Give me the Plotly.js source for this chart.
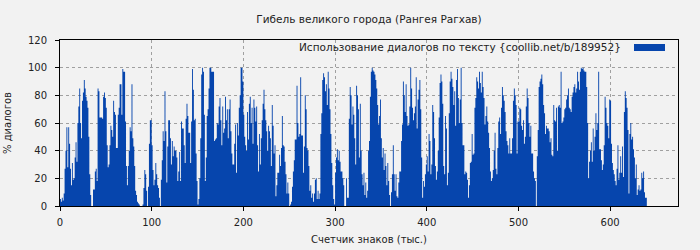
<!DOCTYPE html>
<html>
<head>
<meta charset="utf-8">
<script src="https://cdn.plot.ly/plotly-3.0.1.min.js"></script>
<style>html,body{margin:0;padding:0;background:#f2f2f2;}</style>
</head>
<body>
<div id="chart" style="width:700px;height:250px;"></div>
<script>
// Dialogue share (%) per 1k characters, in order
const seg1 = [5,3,6,4,9,27,40,57,28,57,45,27,15,31,19,20,35,46,32,60,72,85,60,49,76,82,91,85,79,76,71,50,23,8,0,0,12,12,25,27,18,85,83,64,64,64,63,79,82,78,71,44,28,30,44,58,55,50,76,68,66,42,42,66,71,88];
const seg2 = [88,66,99,97,97,61,29,15,29,40,57,54,88,49,43,29,11,8,3,2,1,0,0,0,1,13,26,23,11,0,14,45,62,62,44,26,15,19,31,23,15,13,6,0,19,33,54,47,83,54,17,43,62,62,49,30,47,36,43,40,40,35,18,25,39,18,61,56,56,44];
const seg3 = [31,63,74,65,53,53,31,61,99,84,62,63,38,18,1,5,20,49,95,100,97,66,18,35,65,70,85,100,100,97,97,97,47,48,49,60,59,72,78,62,44,72,53,56,79,62,70,49,70,77,54,38,30,30,45,59,24,60,51,71,80,100,100,90,66,50,44];
const seg4 = [40,68,48,74,79,60,71,45,77,71,61,72,44,25,52,30,49,62,74,84,70,62,54,40,58,54,49,29,73,58,38,44,7,15,24,24,37,29,42,65,44,43,32,23,9,17,9,0,1,3,14,25,33,48,48,87,60,50,52,93,51,51,24,43,80,70,42,40];
const seg5 = [29,11,15,6,9,3,9,19,20,5,11,5,9,52,67,91,96,93,83,88,73,97,85,70,52,31,15,5,1,24,35,41,33,40,32,25,25,20,15,0,0,20,6,6,63,86,80,59,72,66,49,30,87,80,70,35,74,40,23,15,24,8,17,6,11,40];
const seg6 = [47,79,97,100,98,97,95,91,85,73,59,65,77,49,35,42,26,38,29,15,31,18,8,0,10,23,44,23,11,23,7,6,17,25,25,47,59,90,80,68,88,65,58,59,72,100,85,71,62,67,72,93,56,77,84,91,70,35,6,18,14,23,30,36,25,52,47,23,30];
const seg7 = [73,68,49,29,19,25,40,64,89,95,90,74,29,23,65,56,15,24,67,90,97,92,86,73,83,58,91,99,78,60,77,100,60,44,44,23,25,24,19,6,15,31,32,52,37,38,71,78,93,90,85,97,89,82,97,86,78,59,65,72,61,53,42,25,18,20,26,40];
const seg8 = [53,27,23,42,61,64,52,71,86,80,76,68,54,47,44,38,49,38,38,49,76,85,80,73,38,61,61,71,70,58,55,62,45,50,72,85,78,60,50,58,38,38,25,20,18,0,36,55,86,90,92,95,88,73,67,52,58,56,56,54,46,49,37,36,73,62,61,71];
const seg9 = [40,72,73,71,97,60,61,64,70,71,77,80,85,71,70,68,79,82,86,88,82,85,97,90,84,97,100,99,100,98,97,97,86,60,20,32,40,46,32,56,40,50,67,55,60,97,41,41,33,26,30,44,79,71,60,58,49,77,76,45,31,26,23,18,15,27,44];
const seg10 = [19,24,36,24,43,21,68,83,78,71,55,9,52,60,48,50,41,35,20,30,8,12,15,11,12,24,20,25,10,6,6];

const titleText = "Гибель великого города (Рангея Рагхав)";
const seriesName = "Использование диалогов по тексту {coollib.net/b/189952}";
const xTitle = "Счетчик знаков (тыс.)";
const yTitle = "% диалогов";
const xTicks = [0, 100, 200, 300, 400, 500, 600];
const yTicks = [0, 20, 40, 60, 80, 100, 120];

const values = [].concat(seg1, seg2, seg3, seg4, seg5, seg6, seg7, seg8, seg9, seg10);
// one-unit-wide bars drawn as a solid step area: each bin spans [i, i+1)
const xs = values.map((v, i) => i).concat([values.length]);
const ys = values.concat([values[values.length - 1]]);

const barColor = "#0645AD";
const font = "DejaVu Sans, sans-serif";

const trace = {
  type: "scatter",
  mode: "lines",
  x: xs,
  y: ys,
  line: {shape: "hv", width: 0, color: barColor},
  fill: "tozeroy",
  fillcolor: barColor,
  name: seriesName,
  showlegend: false,
  hoverinfo: "x+y"
};

const layout = {
  width: 700,
  height: 250,
  paper_bgcolor: "#f2f2f2",
  plot_bgcolor: "#f2f2f2",
  margin: {l: 60, r: 22, t: 40, b: 44},
  font: {family: font, size: 10, color: "#222"},
  title: {
    text: titleText,
    font: {family: font, size: 10.5, color: "#222"},
    x: 0.5, xref: "paper",
    y: 1 - 19/250, yref: "container", yanchor: "middle"
  },
  xaxis: {
    range: [0, 674],
    tickvals: xTicks,
    ticktext: xTicks.map(String),
    ticks: "outside", ticklen: 4, tickcolor: "#000",
    ticklabelstandoff: 3,
    showline: true, linecolor: "#000", linewidth: 1, mirror: true,
    showgrid: true, gridcolor: "#a0a0a0", griddash: "3px,3px", gridwidth: 1,
    zeroline: false,
    tickfont: {family: font, size: 10, color: "#222"},
    title: {text: xTitle, font: {family: font, size: 10, color: "#222"}, standoff: 8}
  },
  yaxis: {
    range: [0, 120],
    tickvals: yTicks,
    ticktext: yTicks.map(String),
    ticks: "outside", ticklen: 4, tickcolor: "#000",
    ticklabelstandoff: 6,
    showline: true, linecolor: "#000", linewidth: 1, mirror: true,
    showgrid: true, gridcolor: "#a0a0a0", griddash: "3px,3px", gridwidth: 1,
    zeroline: false,
    tickfont: {family: font, size: 10, color: "#222"},
    title: {text: yTitle, font: {family: font, size: 10, color: "#222"}, standoff: 14}
  },
  annotations: [{
    text: seriesName,
    xref: "paper", yref: "paper",
    x: (623 - 60) / 618, y: 1 - (47 - 40) / 166,
    xanchor: "right", yanchor: "middle",
    showarrow: false,
    font: {family: font, size: 10.5, color: "#222"}
  }],
  shapes: [{
    type: "rect", xref: "paper", yref: "paper",
    x0: (634 - 60) / 618, x1: (665 - 60) / 618,
    y0: 1 - (51 - 40) / 166, y1: 1 - (44 - 40) / 166,
    fillcolor: barColor, line: {width: 0}
  }]
};

Plotly.newPlot("chart", [trace], layout, {displayModeBar: false, staticPlot: true});
</script>
</body>
</html>
